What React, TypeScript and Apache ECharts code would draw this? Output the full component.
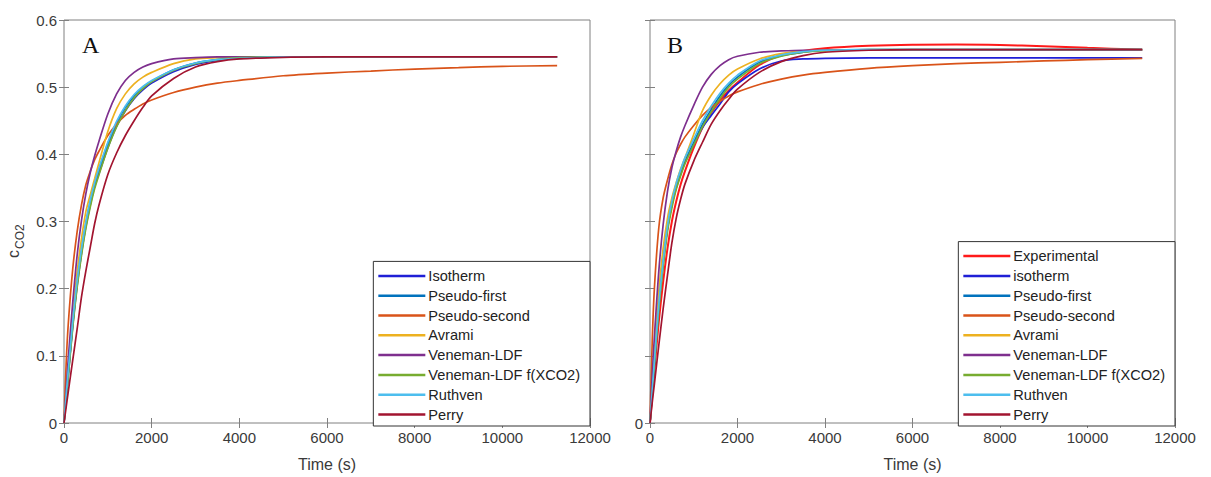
import React, { useEffect, useRef } from "react";
import * as echarts from "echarts";

// time grid (s)
const T = [0, 50, 100, 200, 300, 400, 500, 600, 700, 800, 1000, 1200, 1400, 1600, 1800, 2000, 2500, 3000, 3500, 4000, 5000, 6000, 7000, 8000, 9000, 10000, 11250];

// ---- Panel A ----
const A_ISOTHERM = [0, 0.037, 0.073, 0.145, 0.205, 0.253, 0.293, 0.325, 0.352, 0.372, 0.41, 0.442, 0.465, 0.483, 0.496, 0.506, 0.523, 0.534, 0.54, 0.543, 0.545, 0.545, 0.545, 0.545, 0.545, 0.545, 0.545];
const A_PFIRST = [0, 0.038, 0.075, 0.148, 0.209, 0.258, 0.298, 0.33, 0.357, 0.378, 0.416, 0.447, 0.47, 0.487, 0.5, 0.509, 0.526, 0.536, 0.541, 0.544, 0.545, 0.545, 0.545, 0.545, 0.545, 0.545, 0.545];
const A_PSECOND = [0, 0.09, 0.15, 0.23, 0.285, 0.325, 0.355, 0.375, 0.392, 0.405, 0.428, 0.445, 0.458, 0.467, 0.475, 0.481, 0.492, 0.5, 0.506, 0.51, 0.517, 0.521, 0.524, 0.527, 0.529, 0.531, 0.532];
const A_AVRAMI = [0, 0.04, 0.083, 0.16, 0.225, 0.275, 0.315, 0.34, 0.364, 0.388, 0.434, 0.468, 0.49, 0.505, 0.515, 0.522, 0.535, 0.542, 0.544, 0.545, 0.545, 0.545, 0.545, 0.545, 0.545, 0.545, 0.545];
const A_VENEMAN = [0, 0.05, 0.098, 0.18, 0.25, 0.302, 0.342, 0.373, 0.398, 0.42, 0.46, 0.49, 0.51, 0.522, 0.53, 0.535, 0.542, 0.544, 0.545, 0.545, 0.545, 0.545, 0.545, 0.545, 0.545, 0.545, 0.545];
const A_VENEMAN_F = [0, 0.036, 0.071, 0.142, 0.202, 0.25, 0.29, 0.322, 0.349, 0.37, 0.409, 0.441, 0.465, 0.484, 0.498, 0.508, 0.525, 0.535, 0.541, 0.544, 0.545, 0.545, 0.545, 0.545, 0.545, 0.545, 0.545];
const A_RUTHVEN = [0, 0.042, 0.08, 0.152, 0.212, 0.26, 0.3, 0.332, 0.358, 0.38, 0.418, 0.449, 0.472, 0.489, 0.501, 0.51, 0.526, 0.536, 0.541, 0.543, 0.545, 0.545, 0.545, 0.545, 0.545, 0.545, 0.545];
const A_PERRY = [0, 0.024, 0.048, 0.094, 0.14, 0.188, 0.227, 0.262, 0.297, 0.325, 0.37, 0.402, 0.428, 0.45, 0.47, 0.487, 0.513, 0.53, 0.538, 0.542, 0.5445, 0.545, 0.545, 0.545, 0.545, 0.545, 0.545];

// ---- Panel B ----
const B_EXPERIMENTAL = [0, 0.04, 0.078, 0.15, 0.21, 0.26, 0.3, 0.33, 0.355, 0.375, 0.41, 0.44, 0.462, 0.48, 0.495, 0.507, 0.533, 0.548, 0.554, 0.558, 0.5615, 0.5632, 0.5635, 0.5628, 0.561, 0.5585, 0.556];
const B_ISOTHERM = [0, 0.045, 0.09, 0.175, 0.24, 0.29, 0.325, 0.35, 0.37, 0.388, 0.415, 0.44, 0.458, 0.475, 0.493, 0.505, 0.527, 0.539, 0.542, 0.543, 0.5435, 0.5435, 0.5435, 0.5435, 0.5435, 0.5435, 0.5435];
const B_PFIRST = [0, 0.044, 0.088, 0.172, 0.237, 0.29, 0.325, 0.352, 0.372, 0.39, 0.418, 0.445, 0.467, 0.487, 0.503, 0.515, 0.537, 0.547, 0.552, 0.555, 0.556, 0.556, 0.556, 0.556, 0.556, 0.556, 0.556];
const B_PSECOND = [0, 0.12, 0.2, 0.29, 0.335, 0.362, 0.385, 0.402, 0.415, 0.426, 0.443, 0.458, 0.47, 0.479, 0.487, 0.493, 0.504, 0.512, 0.518, 0.522, 0.528, 0.532, 0.535, 0.537, 0.539, 0.541, 0.543];
const B_AVRAMI = [0, 0.05, 0.1, 0.195, 0.26, 0.305, 0.335, 0.358, 0.378, 0.395, 0.43, 0.465, 0.488, 0.505, 0.518, 0.527, 0.542, 0.55, 0.554, 0.555, 0.5555, 0.5555, 0.5555, 0.5555, 0.5555, 0.5555, 0.5555];
const B_VENEMAN = [0, 0.07, 0.128, 0.225, 0.295, 0.345, 0.38, 0.405, 0.426, 0.443, 0.473, 0.5, 0.519, 0.532, 0.541, 0.546, 0.552, 0.554, 0.555, 0.555, 0.5555, 0.5555, 0.5555, 0.5555, 0.5555, 0.5555, 0.5555];
const B_VENEMAN_F = [0, 0.042, 0.085, 0.168, 0.232, 0.285, 0.32, 0.348, 0.368, 0.386, 0.414, 0.441, 0.463, 0.483, 0.5, 0.512, 0.535, 0.546, 0.552, 0.554, 0.556, 0.556, 0.556, 0.556, 0.556, 0.556, 0.556];
const B_RUTHVEN = [0, 0.047, 0.092, 0.176, 0.241, 0.294, 0.33, 0.357, 0.377, 0.395, 0.423, 0.45, 0.472, 0.491, 0.506, 0.518, 0.539, 0.548, 0.553, 0.555, 0.556, 0.556, 0.556, 0.556, 0.556, 0.556, 0.556];
const B_PERRY = [0, 0.03, 0.058, 0.115, 0.17, 0.22, 0.268, 0.305, 0.333, 0.356, 0.39, 0.418, 0.445, 0.465, 0.482, 0.497, 0.522, 0.538, 0.547, 0.552, 0.555, 0.556, 0.556, 0.556, 0.556, 0.556, 0.556];

const X_TICKS = [0, 2000, 4000, 6000, 8000, 10000, 12000];
const Y_TICKS = [0, 0.1, 0.2, 0.3, 0.4, 0.5, 0.6];

const C = {
  exp: "#ff1a1a",
  iso: "#1f1fd6",
  pf: "#0072BD",
  ps: "#D95319",
  av: "#EDB120",
  vl: "#7E2F8E",
  vf: "#77AC30",
  ru: "#4DBEEE",
  pe: "#A2142F",
};

const A_SERIES = [
  { name: "Isotherm", data: A_ISOTHERM, color: C.iso },
  { name: "Pseudo-first", data: A_PFIRST, color: C.pf },
  { name: "Pseudo-second", data: A_PSECOND, color: C.ps },
  { name: "Avrami", data: A_AVRAMI, color: C.av },
  { name: "Veneman-LDF", data: A_VENEMAN, color: C.vl },
  { name: "Veneman-LDF f(XCO2)", data: A_VENEMAN_F, color: C.vf },
  { name: "Ruthven", data: A_RUTHVEN, color: C.ru },
  { name: "Perry", data: A_PERRY, color: C.pe },
];
const B_SERIES = [
  { name: "Experimental", data: B_EXPERIMENTAL, color: C.exp },
  { name: "isotherm", data: B_ISOTHERM, color: C.iso },
  { name: "Pseudo-first", data: B_PFIRST, color: C.pf },
  { name: "Pseudo-second", data: B_PSECOND, color: C.ps },
  { name: "Avrami", data: B_AVRAMI, color: C.av },
  { name: "Veneman-LDF", data: B_VENEMAN, color: C.vl },
  { name: "Veneman-LDF f(XCO2)", data: B_VENEMAN_F, color: C.vf },
  { name: "Ruthven", data: B_RUTHVEN, color: C.ru },
  { name: "Perry", data: B_PERRY, color: C.pe },
];

const FONT = "Liberation Sans, Arial, sans-serif";
const LABEL_COLOR = "#3a3a3a";
const FRAME = "#808080";

function mkX(gridIndex: number, top: boolean) {
  return {
    type: "value",
    gridIndex,
    position: top ? "top" : "bottom",
    min: X_TICKS[0],
    max: X_TICKS[X_TICKS.length - 1],
    interval: 2000,
    axisLine: { show: false },
    axisTick: { show: true, inside: true, length: 5, lineStyle: { color: FRAME } },
    splitLine: { show: false },
    axisLabel: {
      show: !top,
      color: LABEL_COLOR,
      fontFamily: FONT,
      fontSize: 15,
      margin: 7,
      showMaxLabel: true,
      formatter: (v: number) => String(Math.round(v)),
    },
    name: top ? "" : "Time (s)",
    nameLocation: "middle",
    nameGap: 33,
    nameTextStyle: { color: LABEL_COLOR, fontFamily: FONT, fontSize: 16 },
  };
}

function mkY(gridIndex: number, right: boolean, labels: boolean) {
  return {
    type: "value",
    gridIndex,
    position: right ? "right" : "left",
    min: Y_TICKS[0],
    max: Y_TICKS[Y_TICKS.length - 1],
    interval: 0.1,
    axisLine: { show: false },
    axisTick: { show: true, inside: true, length: 5, lineStyle: { color: FRAME } },
    splitLine: { show: false },
    axisLabel: {
      show: !right,
      color: LABEL_COLOR,
      fontFamily: FONT,
      fontSize: 15,
      margin: 7,
      formatter: (v: number) => {
        if (!labels) return Math.abs(v) < 1e-9 ? "0" : "";
        return String(Math.round(v * 10) / 10);
      },
    },
  };
}

function mkSeries(list: any[], xi: number, yi: number) {
  return list.map((s) => ({
    type: "line",
    name: s.name,
    xAxisIndex: xi,
    yAxisIndex: yi,
    data: T.map((t, i) => [t, s.data[i]]),
    symbol: "none",
    smooth: 0.3,
    color: s.color,
    lineStyle: { width: s.name === "Experimental" ? 2 : 1.7, color: s.color },
    z: 2,
  }));
}

function mkLegend(names: string[], right: number) {
  return {
    data: names,
    orient: "vertical",
    right,
    bottom: 51,
    icon: "rect",
    itemWidth: 47,
    itemHeight: 2.5,
    itemGap: 4.8,
    selectedMode: false,
    padding: [7, 10, 4, 5],
    backgroundColor: "#ffffff",
    borderColor: "#333333",
    borderWidth: 1,
    borderRadius: 0,
    textStyle: { color: "#222", fontFamily: FONT, fontSize: 14.6, lineHeight: 14, padding: [0, 0, 0, -2] },
    z: 10,
  };
}

export default function App() {
  const ref = useRef<HTMLDivElement>(null);
  useEffect(() => {
    if (!ref.current) return;
    const chart = echarts.init(ref.current, undefined, { renderer: "svg" });
    chart.setOption({
      animation: false,
      backgroundColor: "#ffffff",
      grid: [
        { left: 64, top: 20, width: 526, height: 406, show: true, borderColor: FRAME, borderWidth: 1, backgroundColor: "#fff" },
        { left: 650, top: 20, width: 525, height: 406, show: true, borderColor: FRAME, borderWidth: 1, backgroundColor: "#fff" },
      ],
      xAxis: [mkX(0, false), mkX(0, true), mkX(1, false), mkX(1, true)],
      yAxis: [mkY(0, false, true), mkY(0, true, true), mkY(1, false, false), mkY(1, true, false)],
      legend: [mkLegend(A_SERIES.map((s) => s.name), 1211 - 590), mkLegend(B_SERIES.map((s) => s.name), 1211 - 1175)],
      series: [...mkSeries(A_SERIES, 0, 0), ...mkSeries(B_SERIES, 2, 2)],
      graphic: [
        { type: "text", left: 82, top: 33, style: { text: "A", font: "24px 'Liberation Serif', 'Times New Roman', serif", fill: "#111" } },
        { type: "text", left: 667, top: 33, style: { text: "B", font: "24px 'Liberation Serif', 'Times New Roman', serif", fill: "#111" } },
        {
          type: "group",
          x: 21,
          y: 258,
          rotation: Math.PI / 2,
          children: [
            { type: "text", x: 0, y: 0, style: { text: "c", font: "16px 'Liberation Sans', Arial, sans-serif", fill: LABEL_COLOR, textVerticalAlign: "bottom" } },
            { type: "text", x: 9, y: 5, style: { text: "CO2", font: "12px 'Liberation Sans', Arial, sans-serif", fill: LABEL_COLOR, textVerticalAlign: "bottom" } },
          ],
        },
      ],
    });
    return () => chart.dispose();
  }, []);
  return <div ref={ref} style={{ position: "fixed", left: 0, top: 0, width: 1211, height: 477 }} />;
}
